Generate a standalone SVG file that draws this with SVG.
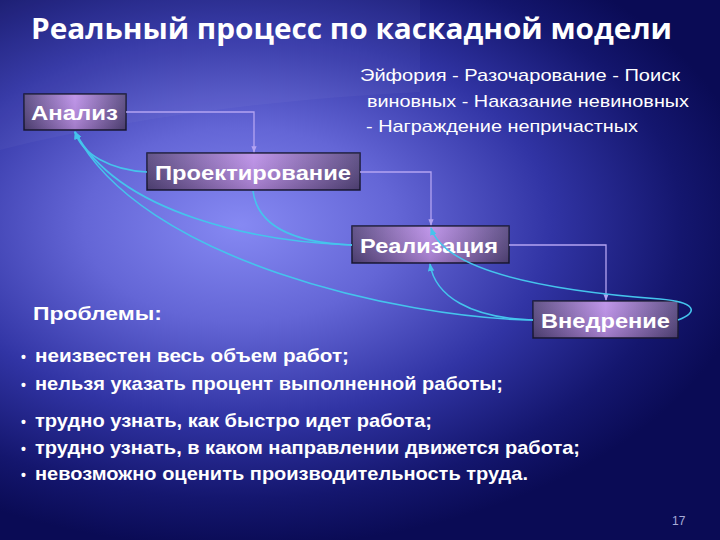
<svg xmlns="http://www.w3.org/2000/svg" width="720" height="540" viewBox="0 0 720 540">
<defs>
<radialGradient id="bg" gradientUnits="userSpaceOnUse" cx="240" cy="225" r="520" gradientTransform="translate(240 225) scale(1 0.62) translate(-240 -225)">
<stop offset="0" stop-color="#8689f3"/>
<stop offset="0.3" stop-color="#6466d6"/>
<stop offset="0.6" stop-color="#3134a4"/>
<stop offset="0.85" stop-color="#14166e"/>
<stop offset="1" stop-color="#0a0b55"/>
</radialGradient>
<linearGradient id="box" x1="0" y1="0" x2="1" y2="0">
<stop offset="0" stop-color="#56467f"/>
<stop offset="0.5" stop-color="#bb8ee8"/>
<stop offset="1" stop-color="#56467f"/>
</linearGradient>
<linearGradient id="boxv" x1="0" y1="0" x2="0" y2="1">
<stop offset="0" stop-color="#ffffff" stop-opacity="0.08"/>
<stop offset="1" stop-color="#000000" stop-opacity="0.15"/>
</linearGradient>
<marker id="ah" viewBox="0 0 10 10" refX="9" refY="5" markerWidth="5" markerHeight="5" orient="auto">
<path d="M0,1 L10,5 L0,9 z" fill="#b4a4f2"/>
</marker>
<marker id="ac" viewBox="0 0 10 10" refX="9" refY="5" markerWidth="5" markerHeight="5" orient="auto">
<path d="M0,1 L10,5 L0,9 z" fill="#45c4ec"/>
</marker>
</defs>
<style>
.node rect.b{fill:url(#box);stroke:#1a1836;stroke-width:1.5}
.node rect.s{fill:url(#boxv)}
.node text{font-family:"Liberation Sans",Arial,sans-serif;font-weight:bold;font-size:20px;fill:#ffffff}
.lav{fill:none;stroke:#b4a4f2;stroke-width:1.3;marker-end:url(#ah)}
.cy{fill:none;stroke:#45c4ec;stroke-width:1.6}
.cya{marker-end:url(#ac)}
.t{font-family:"Liberation Sans",Arial,sans-serif;fill:#ffffff}
.title{font-family:"Open Sans","Noto Sans",sans-serif;font-weight:bold;font-size:28px;fill:#ffffff}
.bl{font-family:"Liberation Sans",Arial,sans-serif;font-weight:bold;font-size:19px;fill:#ffffff}
.pg{font-family:"Liberation Sans",Arial,sans-serif;font-size:12px;fill:#a8acd8}
</style>
<rect x="0" y="0" width="720" height="540" fill="url(#bg)"/>
<path d="M0,150 C120,120 260,100 420,92 L420,0 L0,0 z" fill="#ffffff" opacity="0.035"/>

<text x="31" y="39" class="title" textLength="641" lengthAdjust="spacingAndGlyphs">Реальный процесс по каскадной модели</text>

<g class="t" font-size="17">
<text x="360" y="81" textLength="320" lengthAdjust="spacingAndGlyphs">Эйфория - Разочарование - Поиск</text>
<text x="367" y="107" textLength="322" lengthAdjust="spacingAndGlyphs">виновных - Наказание невиновных</text>
<text x="366" y="132" textLength="272" lengthAdjust="spacingAndGlyphs">- Награждение непричастных</text>
</g>

<g id="n-analiz" class="node">
<rect class="b" x="24" y="94" width="102" height="36"/>
<rect class="s" x="24" y="94" width="102" height="36"/>
<text x="31" y="120" textLength="87" lengthAdjust="spacingAndGlyphs">Анализ</text>
</g>
<g id="n-proekt" class="node">
<rect class="b" x="147" y="153" width="213" height="37"/>
<rect class="s" x="147" y="153" width="213" height="37"/>
<text x="155" y="180" textLength="196" lengthAdjust="spacingAndGlyphs">Проектирование</text>
</g>
<g id="n-real" class="node">
<rect class="b" x="352" y="226" width="157" height="37"/>
<rect class="s" x="352" y="226" width="157" height="37"/>
<text x="360" y="253" textLength="138" lengthAdjust="spacingAndGlyphs">Реализация</text>
</g>
<g id="n-vnedr" class="node">
<rect class="b" x="533" y="301" width="145" height="37"/>
<rect class="s" x="533" y="301" width="145" height="37"/>
<text x="541" y="328" textLength="129" lengthAdjust="spacingAndGlyphs">Внедрение</text>
</g>

<g id="connectors">
<path class="lav" d="M126,112 H254 V152"/>
<path class="lav" d="M360,172 H431 V225"/>
<path class="lav" d="M509,245 H606 V300"/>
<path class="cy cya" d="M147,172 C110,170 82,154 75,132"/>
<path class="cy cya" d="M352,245 C260,242 120,215 75,132"/>
<path class="cy cya" d="M533,320 C400,318 140,260 75,132"/>
<path class="cy" d="M352,245 C300,243 258,230 253,191"/>
<path class="cy cya" d="M533,320 C470,318 435,296 430,264"/>
<path class="cy cya" d="M678,320 C700,312 695,302 660,299 C540,290 445,270 431,228"/>
</g>

<text x="33" y="320" class="t" font-weight="bold" font-size="19" textLength="129" lengthAdjust="spacingAndGlyphs">Проблемы:</text>

<g class="bl">
<text x="21" y="362" font-size="14">•</text>
<text x="35" y="362" textLength="314" lengthAdjust="spacingAndGlyphs">неизвестен весь объем работ;</text>
<text x="21" y="390" font-size="14">•</text>
<text x="35" y="390" textLength="468" lengthAdjust="spacingAndGlyphs">нельзя указать процент выполненной работы;</text>
<text x="21" y="427" font-size="14">•</text>
<text x="35" y="427" textLength="397" lengthAdjust="spacingAndGlyphs">трудно узнать, как быстро идет работа;</text>
<text x="21" y="454" font-size="14">•</text>
<text x="35" y="454" textLength="545" lengthAdjust="spacingAndGlyphs">трудно узнать, в каком направлении движется работа;</text>
<text x="21" y="480" font-size="14">•</text>
<text x="35" y="480" textLength="493" lengthAdjust="spacingAndGlyphs">невозможно оценить производительность труда.</text>
</g>

<text x="672" y="525" class="pg">17</text>
</svg>
